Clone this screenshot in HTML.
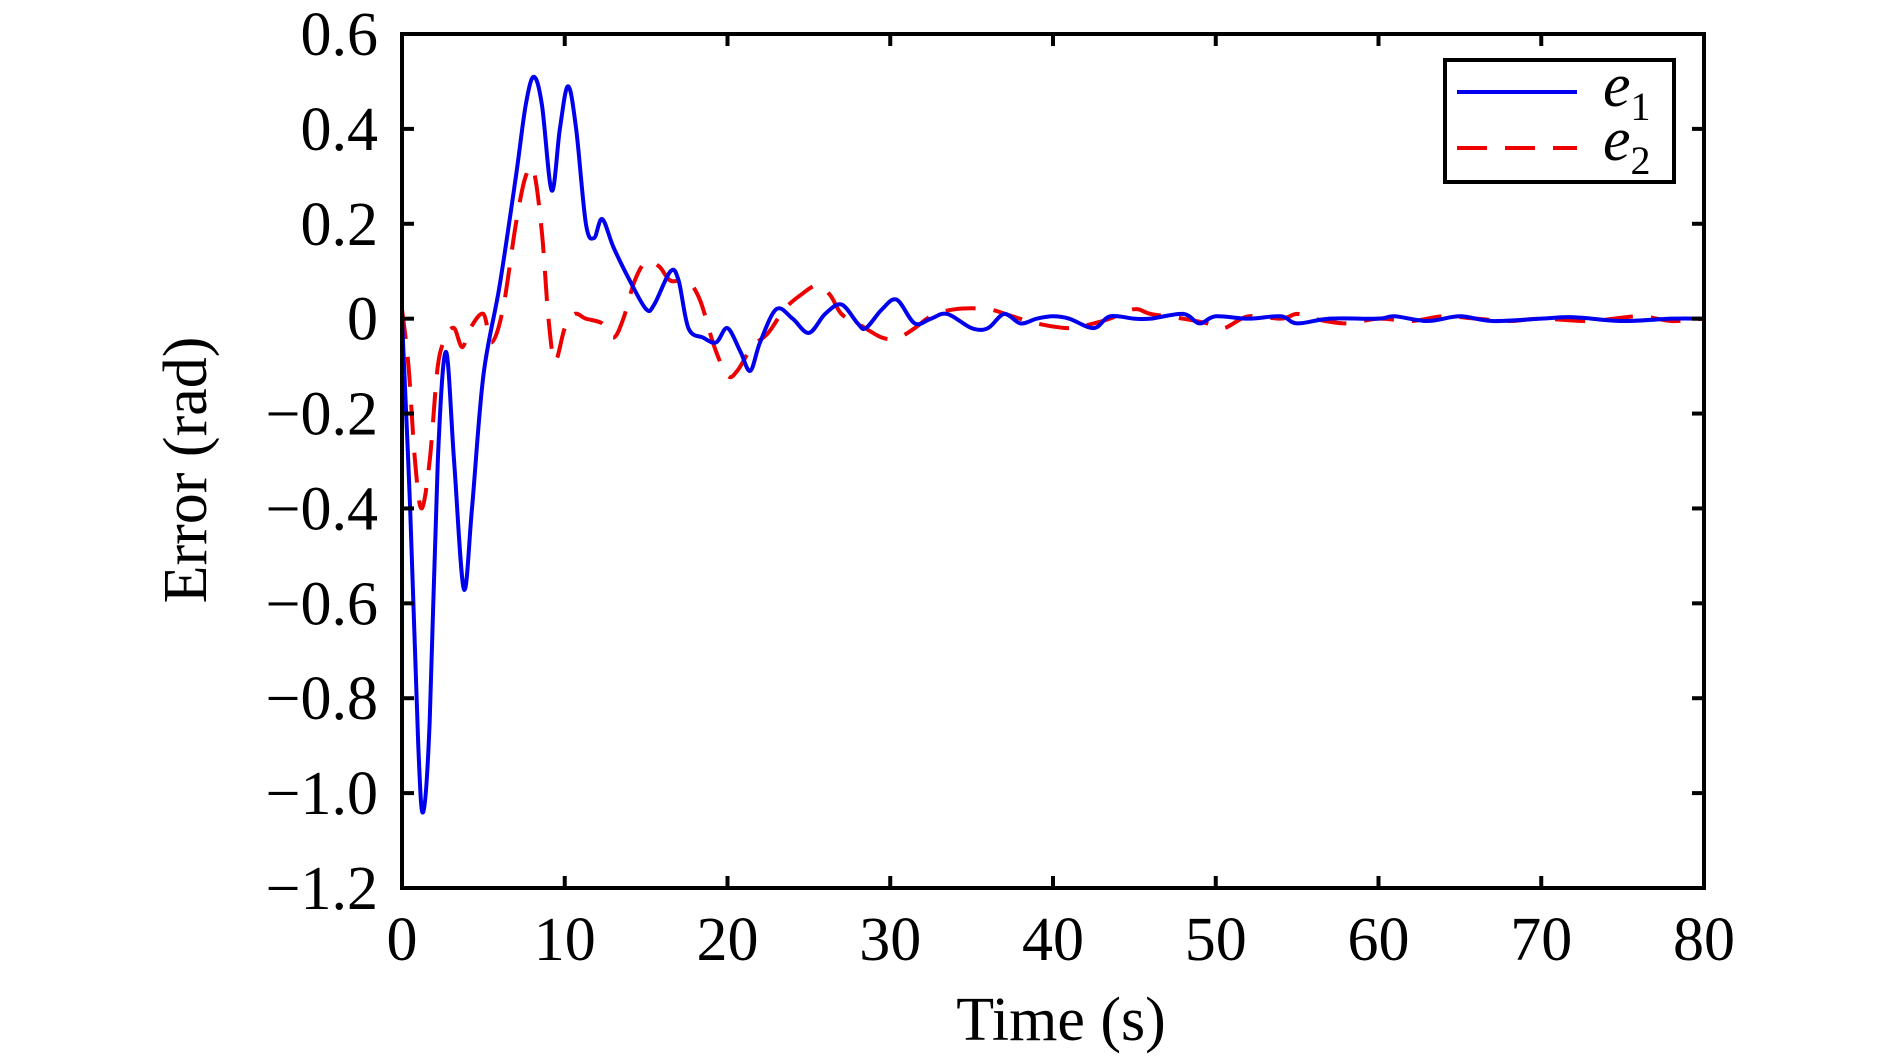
<!DOCTYPE html>
<html><head><meta charset="utf-8"><style>
html,body{margin:0;padding:0;background:#fff;}
svg{display:block;font-family:"Liberation Serif",serif;}
</style></head><body>
<svg id="chart" width="1890" height="1056" viewBox="0 0 1890 1056">
<g id="plot"></g>
<g id="axes"></g>
<text x="1061" y="1040" font-size="62" text-anchor="middle">Time (s)</text>
<text transform="translate(206,470) rotate(-90)" font-size="62" text-anchor="middle">Error (rad)</text>
<g>
<rect x="1445" y="60" width="229" height="122" fill="#fff" stroke="#000" stroke-width="4"/>
<line x1="1457" y1="92" x2="1577" y2="92" stroke="#0000ee" stroke-width="4"/>
<text x="1603" y="106" font-size="62" font-style="italic">e<tspan font-size="40" font-style="normal" dy="14">1</tspan></text>
<line x1="1457" y1="148" x2="1577" y2="148" stroke="#ee0000" stroke-width="4" stroke-dasharray="30,18"/>
<text x="1603" y="160" font-size="62" font-style="italic">e<tspan font-size="40" font-style="normal" dy="14">2</tspan></text>
</g>
</svg>
<script>
const xTicks=[0,10,20,30,40,50,60,70,80];
const yTicks=[0.6,0.4,0.2,0,-0.2,-0.4,-0.6,-0.8,-1.0,-1.2];
const yTickLabels=["0.6","0.4","0.2","0","\u22120.2","\u22120.4","\u22120.6","\u22120.8","\u22121.0","\u22121.2"];
const e1T=[0,0.5,1.0,1.3,1.7,2.2,2.7,3.2,3.8,4.3,5,6,7,7.6,8.1,8.6,9.2,9.7,10.2,10.7,11.3,11.8,12.3,13,14,15,15.5,16.5,17,17.6,18.5,19.3,20,20.8,21.4,22,23,24,25,26,27,28,28.5,29.5,30.4,31.5,32.5,33.5,35,36,37,38,39,40,41,42.5,43.5,45,46,48,49,50,52,54,55,57,60,61,63,65,67,70,72,75,78,80];
const e1V=[0,-0.4,-0.9,-1.04,-0.85,-0.3,-0.07,-0.3,-0.57,-0.4,-0.12,0.07,0.3,0.45,0.51,0.45,0.27,0.4,0.49,0.4,0.2,0.17,0.21,0.15,0.08,0.02,0.03,0.1,0.08,-0.02,-0.04,-0.05,-0.02,-0.07,-0.11,-0.05,0.02,0,-0.03,0.01,0.03,-0.01,-0.02,0.02,0.04,-0.01,0,0.01,-0.02,-0.02,0.01,-0.01,0,0.005,0,-0.02,0.005,0,0,0.01,-0.01,0.005,0,0.005,-0.01,0,0,0.005,-0.005,0.005,-0.005,0,0.003,-0.005,0,0];
const e2T=[0,0.4,0.8,1.2,1.7,2.2,2.7,3.2,3.7,4.2,5,5.5,6.2,7,7.6,8.1,8.6,9,9.4,10,10.6,11.3,12.3,13,13.6,14.3,15,15.8,16.5,17.5,18.3,19.2,20,20.6,21.5,22.5,23.5,24.5,25.5,26.3,27,28,29.5,30.5,31.5,32.5,34,36,37.5,39,41,42.5,43.5,45,46,48,49.5,50.5,52,54,55,56,58,60,62,64,66,68,70,73,76,78,80];
const e2V=[0.02,-0.1,-0.3,-0.4,-0.3,-0.1,-0.04,-0.02,-0.06,-0.02,0.01,-0.05,0.02,0.2,0.3,0.31,0.18,0,-0.09,-0.02,0.01,0,-0.01,-0.04,0,0.08,0.12,0.11,0.08,0.08,0.04,-0.06,-0.12,-0.11,-0.06,-0.03,0.02,0.05,0.07,0.05,0.01,-0.01,-0.04,-0.04,-0.02,0.005,0.02,0.02,0.005,-0.01,-0.02,-0.01,0,0.02,0.01,0,-0.01,-0.02,0.005,0,0.01,0,-0.01,0,-0.005,0.005,0,-0.005,0,-0.005,0.005,-0.005,0];
const L=402,R=1704,T=34,B=888;
const xS=t=>L+(t-0)/(80-0)*(R-L);
const yS=v=>B-(v-(-1.2))/(0.6-(-1.2))*(B-T);
const NS="http://www.w3.org/2000/svg";
function mk(tag,attrs,parent){const e=document.createElementNS(NS,tag);for(const k in attrs)e.setAttribute(k,attrs[k]);parent.appendChild(e);return e;}
function smooth(ts,vs){const p=ts.map((t,i)=>[xS(t),yS(vs[i])]);let d="M"+p[0][0]+","+p[0][1];
for(let i=0;i<p.length-1;i++){const p0=p[i-1]||p[i],p1=p[i],p2=p[i+1],p3=p[i+2]||p2;
const c1=[p1[0]+(p2[0]-p0[0])/6,p1[1]+(p2[1]-p0[1])/6],c2=[p2[0]-(p3[0]-p1[0])/6,p2[1]-(p3[1]-p1[1])/6];
d+=" C"+c1[0]+","+c1[1]+" "+c2[0]+","+c2[1]+" "+p2[0]+","+p2[1];}return d;}
const plot=document.getElementById('plot'),axes=document.getElementById('axes');
const l2=mk('path',{d:smooth(e2T,e2V),fill:'none',stroke:'#ee0000','stroke-width':4,'stroke-dasharray':'30,18'},plot);


const l1=mk('path',{d:smooth(e1T,e1V),fill:'none',stroke:'#0000ee','stroke-width':4},plot);


const frame=mk('rect',{x:L,y:T,width:R-L,height:B-T,fill:'none',stroke:'#000','stroke-width':4},axes);


xTicks.forEach(t=>{const x=xS(t);
mk('line',{x1:x,y1:B,x2:x,y2:B-12,stroke:'#000','stroke-width':4},axes);
mk('line',{x1:x,y1:T,x2:x,y2:T+12,stroke:'#000','stroke-width':4},axes);
const tx=mk('text',{x:x,y:960,'font-size':62,'text-anchor':'middle'},axes);tx.textContent=t;

});
yTicks.forEach((v,i)=>{const y=yS(v);
mk('line',{x1:L,y1:y,x2:L+12,y2:y,stroke:'#000','stroke-width':4},axes);
mk('line',{x1:R,y1:y,x2:R-12,y2:y,stroke:'#000','stroke-width':4},axes);
const tx=mk('text',{x:378,y:y+21,'font-size':62,'text-anchor':'end'},axes);tx.textContent=yTickLabels[i];

});
</script>
</body></html>
